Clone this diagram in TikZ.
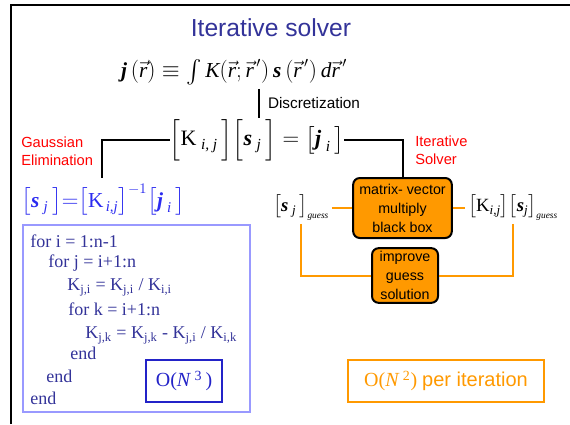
\documentclass[tikz,border=0pt]{standalone}
\usepackage{amsmath}
\usepackage{fontspec}
\setmainfont{Liberation Serif}
\setsansfont{Liberation Sans}
\usetikzlibrary{positioning}

\definecolor{titleblue}{HTML}{333399}
\definecolor{solred}{HTML}{FF0000}
\definecolor{eqblue}{HTML}{2B2BF0}
\definecolor{codeframe}{HTML}{9999FF}
\definecolor{ordblue}{HTML}{2323C8}
\definecolor{boxorange}{HTML}{FF9900}

\newcommand{\bs}{\textbf{\textit{s}}}
\newcommand{\bj}{\textbf{\textit{j}}}
\newcommand{\rvec}{\vec{\textit{r}}}

\begin{document}
\begin{tikzpicture}[
  x=0.75pt, y=-0.75pt,
  eqn/.style={font=\fontsize{15}{18}\selectfont, inner sep=1pt},
  redlabel/.style={font=\sffamily\fontsize{11}{13.5}\selectfont, text=solred, align=left, anchor=west, inner sep=0pt},
  codeline/.style={anchor=west, inner sep=0pt, text=titleblue, font=\fontsize{13.5}{15}\selectfont},
  engine/.style={draw=black, line width=1.5pt, fill=boxorange, rounded corners=5pt, align=center, font=\sffamily\fontsize{10.7}{14.2}\selectfont, inner sep=0pt},
  guess/.style={font=\fontsize{14}{16}\selectfont, inner sep=2pt},
  link/.style={line width=1.5pt},
  feed/.style={draw=boxorange, line width=1.5pt},
]
  \useasboundingbox (0,0) rectangle (570,424);
  \draw[line width=1.5pt] (11,424) -- (11,5) -- (570,5);

  \node[font=\sffamily\fontsize{18.5}{20}\selectfont, text=titleblue] (title) at (271,28) {Iterative solver};
  \node[eqn, font=\fontsize{16}{18}\selectfont] (eqint) at (234,72) {$\bj\,(\rvec)\equiv\int \textit{K}(\rvec;\rvec^{\,\prime})\,\bs\,(\rvec^{\,\prime})\,\textit{d}\rvec^{\,\prime}$};
  \coordinate (dtop) at (259,89);
  \coordinate (dbot) at (259,118);
  \draw[link] (dtop) -- node[right=6pt, inner sep=0pt, font=\sffamily\fontsize{11.5}{13}\selectfont] {Discretization} (dbot);

  \node[eqn, inner sep=0pt, font=\fontsize{16.5}{18}\selectfont] (eqK) at (257,140) {$\Bigl[\textrm{K}_{\;\textit{i, j}}\,\Bigr]\Bigl[\bs_{\;\textit{j}}\,\Bigr]\mathrel{=}\bigl[\bj_{\;\textit{i}}\,\bigr]$};
  \node[redlabel] (gauss) at (21,151) {Gaussian\\Elimination};
  \node[redlabel] (iter) at (415,150) {Iterative\\Solver};

  \node[eqn, font=\fontsize{16}{18}\selectfont, text=eqblue, anchor=west] (gsol) at (20,200) {$\bigl[\bs_{\;\textit{j}}\,\bigr]{=}\bigl[\textrm{K}_{\,\textit{i,j}}\bigr]^{-1}\bigl[\bj_{\;\textit{i}}\,\bigr]$};
  \coordinate (gbot) at (102,178);
  \draw[link] (eqK.west) -| (gbot);

  % direct solve
  \node[draw=codeframe, line width=1.5pt, minimum width=170pt, minimum height=140pt] (code) at (136.5,318.5) {};
  \node[codeline] (l1) at (30,241) {for i = 1:n-1};
  \node[codeline] (l2) at (48,263) {for j = i+1:n};
  \node[codeline] (l3) at (67,287) {K\textsubscript{j,i} = K\textsubscript{j,i} / K\textsubscript{i,i}};
  \node[codeline] (l4) at (68,309) {for k = i+1:n};
  \node[codeline] (l5) at (85,335) {K\textsubscript{j,k} = K\textsubscript{j,k} - K\textsubscript{j,i} / K\textsubscript{i,k}};
  \node[codeline] (l6) at (70,353) {end};
  \node[codeline] (l7) at (46,376) {end};
  \node[codeline] (l8) at (30,398) {end};
  \node[draw=ordblue, line width=1.5pt, minimum width=57pt, minimum height=32pt, text=ordblue, font=\fontsize{15}{18}\selectfont] (ordthree) at (184,381) {O(\textit{N}\,\textsuperscript{3}\,)};

  % iterative solve
  \node[engine, minimum width=74pt, minimum height=45pt] (mvbox) at (402.5,208) {matrix- vector\\multiply\\black box};
  \node[engine, minimum width=49.5pt, minimum height=41pt] (improve) at (405,275.5) {improve\\guess\\solution};
  \node[guess] (sguess) at (301,208) {$\bigl[\bs_{\;\textit{j}}\,\bigr]_{\scriptscriptstyle\textit{guess}}$};
  \node[guess] (ksguess) at (513,208) {$\bigl[\textrm{K}_{\textit{i,j}}\bigr]\bigl[\bs_{\textit{j}}\bigr]_{\scriptscriptstyle\textit{guess}}$};
  \draw[link] (eqK.east) -| (mvbox);
  \draw[feed] (sguess) -- (mvbox);
  \draw[feed] (mvbox) -- (ksguess);
  \draw[feed] (sguess) |- (improve);
  \draw[feed] (ksguess) |- (improve);
  \node[draw=boxorange, line width=1.5pt, minimum width=147pt, minimum height=31.5pt, text=boxorange, font=\fontsize{15}{18}\selectfont] (ordtwo) at (446,381) {O(\textit{N}\,\textsuperscript{2}) {\sffamily per iteration}};
\end{tikzpicture}
\end{document}
